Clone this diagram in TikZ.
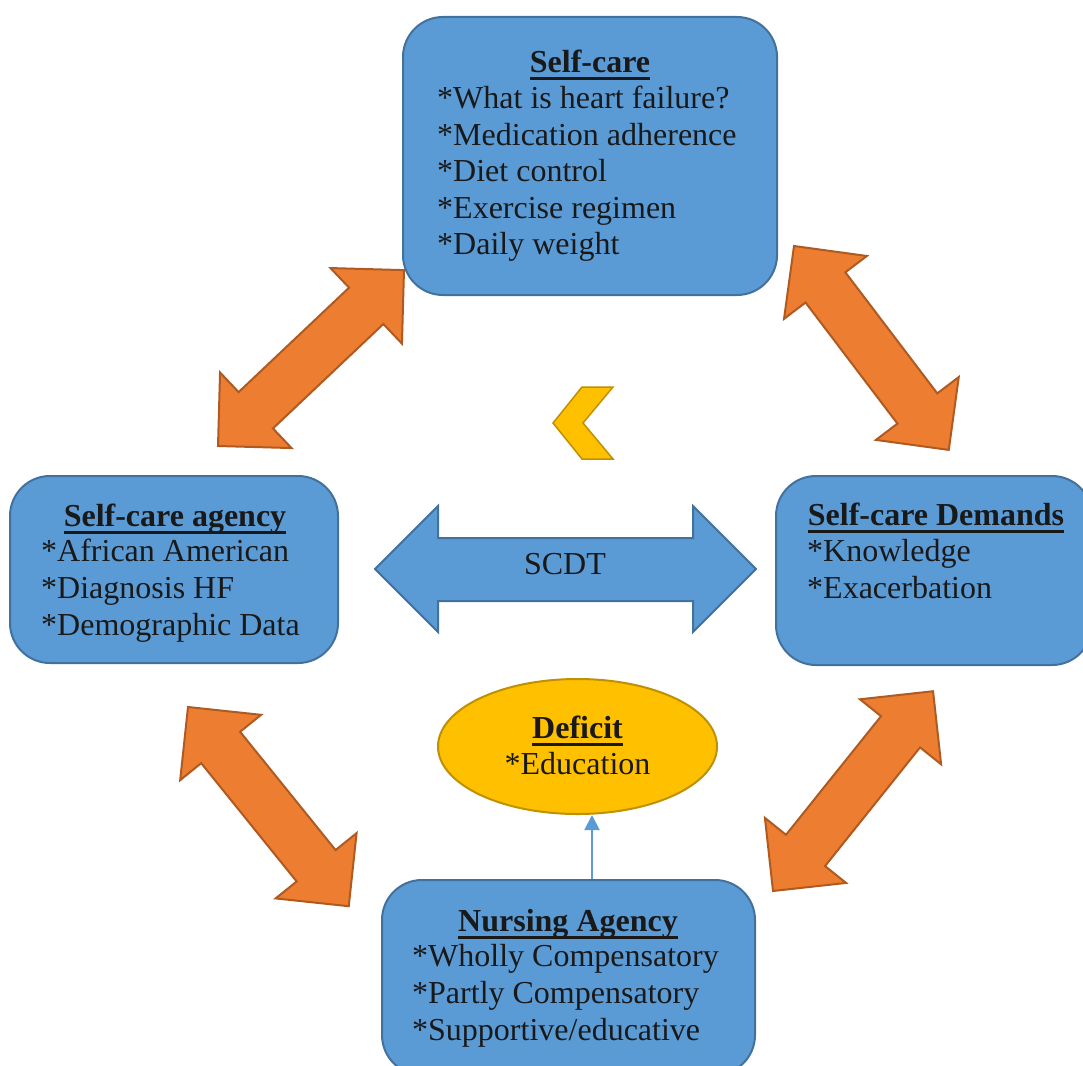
\documentclass[tikz,border=0pt]{standalone}
\usepackage{fontspec}
\setmainfont{Liberation Serif}
\usetikzlibrary{arrows.meta,shapes.geometric}

\definecolor{boxblue}{HTML}{5B9BD5}
\definecolor{boxline}{HTML}{41719C}
\definecolor{accorange}{HTML}{ED7D31}
\definecolor{orangeline}{HTML}{AE5A21}
\definecolor{gold}{HTML}{FFC000}
\definecolor{goldline}{HTML}{BF9000}

% underline that runs through descenders, as in the original
\newcommand{\uln}[1]{\setbox0\hbox{#1}\rlap{\rule[-7.8pt]{\wd0}{2.8pt}}\box0}

\begin{document}
\begin{tikzpicture}[%
            x=1pt,
            y=-1pt,
            ]
    \tikzset{box/.style = {draw=boxline, fill=boxblue, line width=2pt, rounded corners=40pt, inner sep=0pt}}
    \tikzset{boxtitle/.style = {anchor=base, inner sep=0pt, text=black!90, font=\fontsize{32}{37}\selectfont\bfseries}}
    \tikzset{item/.style = {anchor=base west, inner sep=0pt, text=black!90, font=\fontsize{32}{37}\selectfont}}
    \tikzset{twoway/.style = {draw=orangeline, fill=accorange, line width=2pt}}
    \tikzset{link/.style = {draw=boxblue, line width=2pt, -{Triangle[width=15pt,length=15pt]}}}

    \useasboundingbox (0,0) rectangle (1083,1065);

    % Boxes
    \node[box, minimum width=374pt, minimum height=278pt] (selfcare) at (590,156) {};
    \node[box, minimum width=328pt, minimum height=187pt] (agency) at (174,569.5) {};
    \node[box, minimum width=316pt, minimum height=189pt] (demands) at (934,570.5) {};
    \node[box, minimum width=373pt, minimum height=195pt] (nursing) at (568.5,977.5) {};
    \node[ellipse, draw=goldline, fill=gold, line width=2pt, minimum width=279pt, minimum height=135pt, inner sep=0pt] (deficit) at (577.5,746.5) {};

    % Two-way block arrows between the boxes
    \foreach \sx/\sy/\ang in {218/446/43.4, 794/246/-52.8, 188/707/-51.1, 773/891/51.3}
        \draw[twoway, shift={(\sx,\sy)}, rotate=\ang] (0,0) -- (52,52) -- (52,25) -- (204,25) -- (204,52) -- (256,0)
            -- (204,-52) -- (204,-25) -- (52,-25) -- (52,-52) -- cycle;

    % SCDT arrow
    \draw[draw=boxline, fill=boxblue, line width=2pt] (375,569) -- (438,506) -- (438,538) -- (693,538) -- (693,506) -- (756,569)
        -- (693,632) -- (693,601) -- (438,601) -- (438,632) -- cycle;
    \node[anchor=base, inner sep=0pt, text=black!90, font=\fontsize{32}{37}\selectfont] (scdt) at (565,574) {SCDT};

    % Chevron
    \draw[draw=goldline, fill=gold, line width=1.5pt] (582,387) -- (613,387) -- (583,423) -- (613,459) -- (582,459) -- (553,423) -- cycle;

    % Texts
    \node[boxtitle] (sctitle) at (590,72) {\uln{Self-care}};
    \foreach \t [count=\i] in {What is heart failure?, Medication adherence, Diet control, Exercise regimen, Daily weight}
        \node[item] (sc\i) at (437,72+36.5*\i) {*\t};

    \node[boxtitle] (agtitle) at (175,526) {\uln{Self-care agency}};
    \foreach \t [count=\i] in {African American, Diagnosis HF, Demographic Data}
        \node[item] (ag\i) at (41,525+36.8*\i) {*\t};

    \node[boxtitle] (dmtitle) at (936,525) {\uln{Self-care Demands}};
    \foreach \t [count=\i] in {Knowledge, Exacerbation}
        \node[item] (dm\i) at (807,525+36.6*\i) {*\t};

    \node[boxtitle] (nutitle) at (568,931) {\uln{Nursing Agency}};
    \foreach \t [count=\i] in {Wholly Compensatory, Partly Compensatory, Supportive/educative}
        \node[item] (nu\i) at (412,930+36.8*\i) {*\t};

    \node[boxtitle] (dftitle) at (577.5,738) {\uln{Deficit}};
    \node[item, anchor=base] (df1) at (577.5,774) {*Education};

    % Nursing agency -> deficit
    \coordinate (edu) at (592,0);
    \draw[link] (nursing.north -| edu) -- (deficit.south -| edu);

\end{tikzpicture}
\end{document}
